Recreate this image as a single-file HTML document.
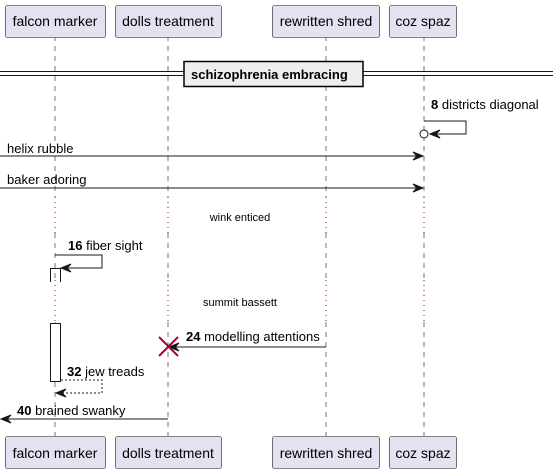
<!DOCTYPE html>
<html><head><style>
body{margin:0;background:#fff}
svg{display:block;font-family:"Liberation Sans",sans-serif}
.p{fill:#e2e2f0;stroke:#181818;stroke-width:0.6}
.pt{font-size:14px;fill:#000;text-anchor:middle}
.m{font-size:13px;fill:#000}
.ll{stroke:#181818;stroke-width:0.6;stroke-dasharray:5,5}
.dt{stroke:#a80036;stroke-width:1;stroke-dasharray:1,4}
.ln{stroke:#181818;stroke-width:1;fill:none}
.ar{fill:#181818;stroke:#181818}
</style></head><body>
<svg width="553" height="472" viewBox="0 0 553 472">
<g>
<line class="ll" x1="55" y1="36" x2="55" y2="197"/><line class="dt" x1="55" y1="197" x2="55" y2="233"/><line class="ll" x1="55" y1="233" x2="55" y2="280"/><line class="dt" x1="55" y1="280" x2="55" y2="322"/><line class="ll" x1="55" y1="322" x2="55" y2="436"/>
<line class="ll" x1="168" y1="36" x2="168" y2="197"/><line class="dt" x1="168" y1="197" x2="168" y2="233"/><line class="ll" x1="168" y1="233" x2="168" y2="280"/><line class="dt" x1="168" y1="280" x2="168" y2="322"/><line class="ll" x1="168" y1="322" x2="168" y2="436"/>
<line class="ll" x1="326" y1="36" x2="326" y2="197"/><line class="dt" x1="326" y1="197" x2="326" y2="233"/><line class="ll" x1="326" y1="233" x2="326" y2="280"/><line class="dt" x1="326" y1="280" x2="326" y2="322"/><line class="ll" x1="326" y1="322" x2="326" y2="436"/>
<line class="ll" x1="424" y1="36" x2="424" y2="197"/><line class="dt" x1="424" y1="197" x2="424" y2="233"/><line class="ll" x1="424" y1="233" x2="424" y2="280"/><line class="dt" x1="424" y1="280" x2="424" y2="322"/><line class="ll" x1="424" y1="322" x2="424" y2="436"/>
</g>
<rect class="p" x="5.5" y="5.5" width="100" height="32" rx="2"/><text class="pt" x="55" y="26">falcon marker</text>
<rect class="p" x="115.5" y="5.5" width="106" height="32" rx="2"/><text class="pt" x="168" y="26">dolls treatment</text>
<rect class="p" x="272.5" y="5.5" width="107" height="32" rx="2"/><text class="pt" x="326" y="26">rewritten shred</text>
<rect class="p" x="389.5" y="5.5" width="67" height="32" rx="2"/><text class="pt" x="423" y="26">coz spaz</text>
<rect class="p" x="5.5" y="436.5" width="100" height="32" rx="2"/><text class="pt" x="55" y="458">falcon marker</text>
<rect class="p" x="115.5" y="436.5" width="106" height="32" rx="2"/><text class="pt" x="168" y="458">dolls treatment</text>
<rect class="p" x="272.5" y="436.5" width="107" height="32" rx="2"/><text class="pt" x="326" y="458">rewritten shred</text>
<rect class="p" x="389.5" y="436.5" width="67" height="32" rx="2"/><text class="pt" x="423" y="458">coz spaz</text>

<line x1="0" y1="71.5" x2="553" y2="71.5" stroke="#181818"/><line x1="0" y1="75.5" x2="553" y2="75.5" stroke="#181818"/>
<rect x="184" y="61.5" width="179" height="25" fill="#eee" stroke="#000" stroke-width="1.5"/>
<text x="191" y="79" style="font-size:13px;font-weight:bold">schizophrenia embracing</text>

<text class="m" x="431" y="109"><tspan font-weight="bold">8</tspan> districts diagonal</text>
<polyline class="ln" points="424,121 466,121 466,134 431,134"/>
<path class="ar" d="M430,134 l10,-4 -4,4 4,4z"/>
<circle cx="424" cy="134" r="4" fill="#fff" stroke="#181818"/>

<text class="m" x="7" y="153">helix rubble</text>
<line class="ln" x1="0" y1="156" x2="422" y2="156"/><path class="ar" d="M423,156 l-10,-4 4,4 -4,4z"/>
<text class="m" x="7" y="184">baker adoring</text>
<line class="ln" x1="0" y1="188" x2="422" y2="188"/><path class="ar" d="M423,188 l-10,-4 4,4 -4,4z"/>

<text x="240" y="221" style="font-size:11px;text-anchor:middle">wink enticed</text>

<text class="m" x="68" y="250"><tspan font-weight="bold">16</tspan> fiber sight</text>
<polyline class="ln" points="55,255 102,255 102,268 62,268"/>
<path class="ar" d="M61,268 l10,-4 -4,4 4,4z"/>
<polyline class="ln" points="50.5,282 50.5,268.5 60.5,268.5 60.5,282"/>

<text x="240" y="306" style="font-size:11px;text-anchor:middle">summit bassett</text>

<rect x="50.5" y="323.5" width="10" height="58" fill="#fff" stroke="#181818"/>

<text class="m" x="186" y="341"><tspan font-weight="bold">24</tspan> modelling attentions</text>
<line class="ln" x1="170" y1="347" x2="326" y2="347"/><path class="ar" d="M169,347 l10,-4 -4,4 4,4z"/>
<path d="M159,337 l19,19 M178,337 l-19,19" stroke="#a80036" stroke-width="2"/>

<text class="m" x="67" y="376"><tspan font-weight="bold">32</tspan> jew treads</text>
<polyline class="ln" points="61,380 102,380 102,393 57,393" stroke-dasharray="2,2"/>
<path class="ar" d="M56,393 l10,-4 -4,4 4,4z"/>

<text class="m" x="17" y="415"><tspan font-weight="bold">40</tspan> brained swanky</text>
<line class="ln" x1="2" y1="419" x2="168" y2="419"/><path class="ar" d="M1,419 l10,-4 -4,4 4,4z"/>
</svg>
</body></html>
